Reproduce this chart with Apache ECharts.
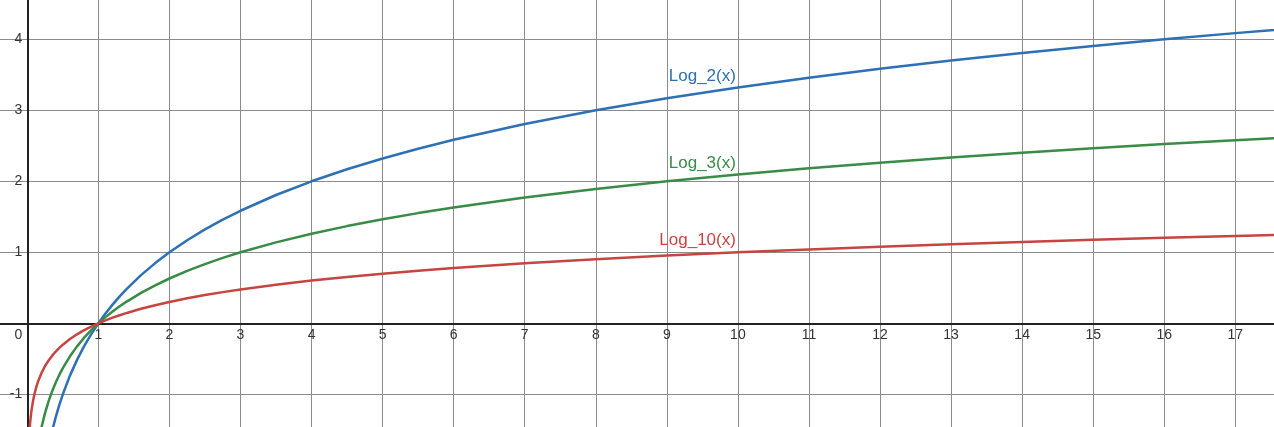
<!DOCTYPE html>
<html><head><meta charset="utf-8">
<style>html,body{margin:0;padding:0;background:#fff}#c{width:1274px;height:427px}</style>
<script src="https://cdn.jsdelivr.net/npm/echarts@6/dist/echarts.min.js"></script>
</head><body><div id="c"></div>
<script>
// sample x positions
var xs = [0.01, 0.015, 0.02, 0.03, 0.04, 0.05, 0.06, 0.08, 0.1, 0.125, 0.15, 0.2, 0.25, 0.3, 0.35, 0.4, 0.45, 0.5, 0.6, 0.7, 0.8, 0.9, 1, 1.1, 1.2, 1.3, 1.4, 1.6, 1.8, 2, 2.25, 2.5, 2.75, 3, 3.5, 4, 4.5, 5, 5.5, 6, 7, 8, 9, 10, 11, 12, 13, 14, 15, 16, 17, 18];
var log2Vals = [-6.644, -6.059, -5.644, -5.059, -4.644, -4.322, -4.059, -3.644, -3.322, -3, -2.737, -2.322, -2, -1.737, -1.515, -1.322, -1.152, -1, -0.737, -0.515, -0.322, -0.152, 0, 0.138, 0.263, 0.379, 0.485, 0.678, 0.848, 1, 1.170, 1.322, 1.459, 1.585, 1.807, 2, 2.170, 2.322, 2.459, 2.585, 2.807, 3, 3.170, 3.322, 3.459, 3.585, 3.700, 3.807, 3.907, 4, 4.087, 4.170];
var log3Vals = [-4.192, -3.823, -3.561, -3.192, -2.930, -2.727, -2.561, -2.299, -2.096, -1.893, -1.727, -1.465, -1.262, -1.096, -0.956, -0.834, -0.727, -0.631, -0.465, -0.325, -0.203, -0.096, 0, 0.087, 0.166, 0.239, 0.306, 0.428, 0.535, 0.631, 0.738, 0.834, 0.921, 1, 1.140, 1.262, 1.369, 1.465, 1.552, 1.631, 1.771, 1.893, 2, 2.096, 2.183, 2.262, 2.335, 2.402, 2.465, 2.524, 2.579, 2.631];
var log10Vals = [-2, -1.824, -1.699, -1.523, -1.398, -1.301, -1.222, -1.097, -1, -0.903, -0.824, -0.699, -0.602, -0.523, -0.456, -0.398, -0.347, -0.301, -0.222, -0.155, -0.097, -0.046, 0, 0.041, 0.079, 0.114, 0.146, 0.204, 0.255, 0.301, 0.352, 0.398, 0.439, 0.477, 0.544, 0.602, 0.653, 0.699, 0.740, 0.778, 0.845, 0.903, 0.954, 1, 1.041, 1.079, 1.114, 1.146, 1.176, 1.204, 1.230, 1.255];
var seriesNames = ['Log_2(x)', 'Log_3(x)', 'Log_10(x)'];
var seriesColors = ['#2d70b3', '#388c46', '#c74440'];
var labelAtX = 10;

var allVals = [log2Vals, log3Vals, log10Vals];
var li = xs.indexOf(labelAtX);
var FONT = 'Arial, "Liberation Sans", sans-serif';

// view geometry (pixels per unit and origin position in the picture)
var W = 1274, H = 427, UX = 71.06, UY = 71.0, OX = 27.3, OY = 323.3;
var XMIN = -1, XMAX = 18, YMIN = -2, YMAX = 5;
var gLeft = OX + XMIN * UX, gRight = W - (OX + XMAX * UX);
var gTop = OY - YMAX * UY, gBottom = H - (OY - YMIN * UY);

var series = allVals.map(function (vals, i) {
  return {
    type: 'line',
    name: seriesNames[i],
    data: xs.map(function (x, k) { return [x, vals[k]]; }),
    showSymbol: false,
    smooth: false,
    clip: true,
    lineStyle: { color: seriesColors[i], width: 2.5 },
    itemStyle: { color: seriesColors[i] },
    markPoint: {
      symbol: 'circle', symbolSize: 0, silent: true,
      data: [{ coord: [labelAtX, vals[li]] }],
      label: {
        show: true, formatter: seriesNames[i], color: seriesColors[i],
        fontFamily: FONT, fontSize: 17,
        position: [-2, -3], align: 'right', verticalAlign: 'bottom'
      }
    }
  };
});

var chart = echarts.init(document.getElementById('c'), null, { renderer: 'canvas' });
chart.setOption({
  animation: false,
  backgroundColor: '#fff',
  grid: { left: gLeft, right: gRight, top: gTop, bottom: gBottom, containLabel: false, outerBoundsMode: 'none' },
  xAxis: {
    type: 'value', min: XMIN, max: XMAX, interval: 1,
    position: 'bottom', offset: -(-YMIN * UY),
    axisLine: { onZero: false, lineStyle: { color: '#222', width: 2 } },
    axisTick: { show: false },
    splitLine: { show: true, lineStyle: { color: '#8c8c8c', width: 1 } },
    axisLabel: {
      margin: 5, color: '#333', fontFamily: FONT, fontSize: 14,
      showMinLabel: false, showMaxLabel: false,
      formatter: function (v) { return v === 0 ? '{z|0}' : String(v); },
      rich: { z: { color: '#333', fontFamily: FONT, fontSize: 14, padding: [0, 18, 0, 0] } }
    }
  },
  yAxis: {
    type: 'value', min: YMIN, max: YMAX, interval: 1,
    position: 'left', offset: -(-XMIN * UX),
    axisLine: { onZero: false, lineStyle: { color: '#222', width: 2 } },
    axisTick: { show: false },
    splitLine: { show: true, lineStyle: { color: '#8c8c8c', width: 1 } },
    axisLabel: {
      margin: 5, color: '#333', fontFamily: FONT, fontSize: 14,
      showMinLabel: false, showMaxLabel: false,
      formatter: function (v) { return v === 0 ? '' : String(v); }
    }
  },
  series: series
});
</script></body></html>
